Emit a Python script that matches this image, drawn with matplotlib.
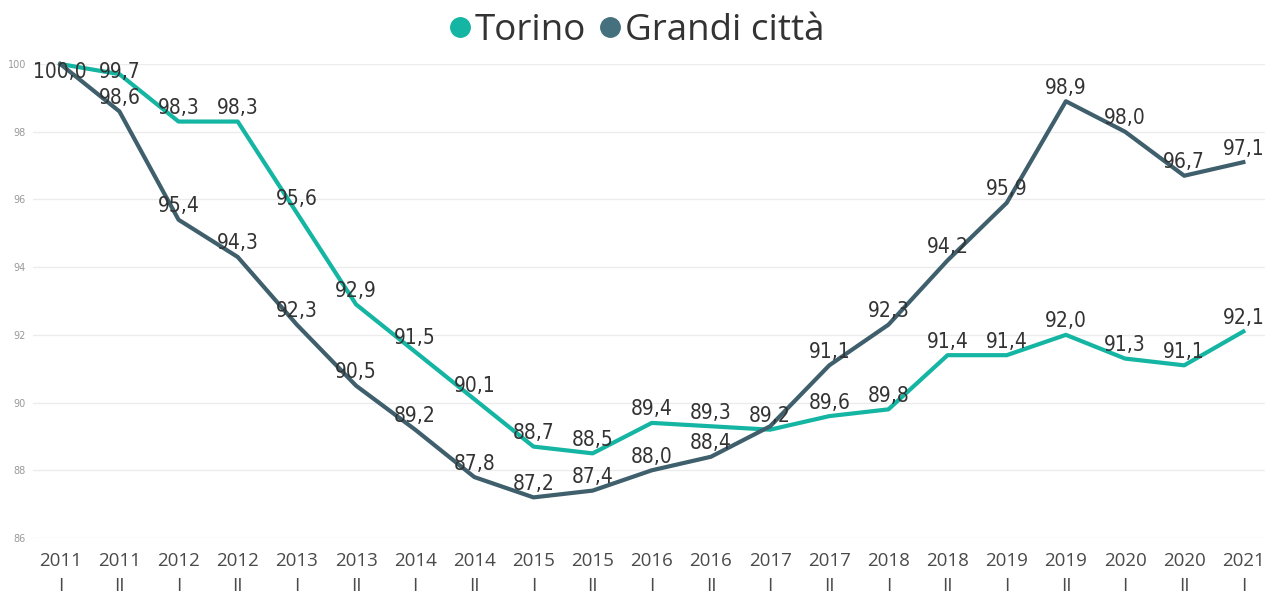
import matplotlib
matplotlib.use("Agg")
import matplotlib.pyplot as plt
from matplotlib.lines import Line2D

# data
anni = ["2011", "2011", "2012", "2012", "2013", "2013", "2014", "2014", "2015", "2015",
        "2016", "2016", "2017", "2017", "2018", "2018", "2019", "2019", "2020", "2020", "2021"]
semestri = ["I", "II"] * 10 + ["I"]
torino = [100.0, 99.7, 98.3, 98.3, 95.6, 92.9, 91.5, 90.1, 88.7, 88.5,
          89.4, 89.3, 89.2, 89.6, 89.8, 91.4, 91.4, 92.0, 91.3, 91.1, 92.1]
grandi = [100.0, 98.6, 95.4, 94.3, 92.3, 90.5, 89.2, 87.8, 87.2, 87.4,
          88.0, 88.4, 89.3, 91.1, 92.3, 94.2, 95.9, 98.9, 98.0, 96.7, 97.1]
# labels that Power BI hid because they overlapped
grandi_hidden = [0, 12]

c_torino = "#14b5a2"
c_grandi = "#3e5f6b"

fig = plt.figure(figsize=(12.71, 5.97), dpi=100)
ax = fig.add_axes([0.026, 0.0988, 0.969, 0.794])

x = list(range(len(torino)))
ax.plot(x, torino, color=c_torino, lw=3.0, clip_on=False, zorder=3)
ax.plot(x, grandi, color=c_grandi, lw=3.0, clip_on=False, zorder=3)

ax.set_ylim(86, 100)
ax.set_xlim(-0.46, 20.36)
ax.set_yticks(range(86, 101, 2))
ax.set_xticks(x)
ax.set_xticklabels([f"{a}\n{s}" for a, s in zip(anni, semestri)],
                   fontsize=13.5, color="#4a4a4a", family="Open Sans", linespacing=1.5)
ax.tick_params(axis="x", length=0, pad=10)
ax.tick_params(axis="y", length=0, pad=5, labelsize=7, labelcolor="#999999")
ax.grid(axis="y", color="#ececec", lw=1)
ax.set_axisbelow(True)
for s in ax.spines.values():
    s.set_visible(False)


def put_labels(vals, skip=()):
    for i, v in enumerate(vals):
        if i in skip:
            continue
        y = min(v + 0.4, 99.75)
        ax.text(i, y, f"{v:.1f}".replace(".", ","), ha="center", va="center",
                fontsize=15, color="#333333", family="DejaVu Sans",
                fontstretch="condensed", zorder=4)


put_labels(torino)
put_labels(grandi, grandi_hidden)

handles = [Line2D([], [], marker="o", ls="", ms=14, color=c_torino),
           Line2D([], [], marker="o", ls="", ms=14, color="#45717e")]
fig.legend(handles, ["Torino", "Grandi città"], loc="center", bbox_to_anchor=(0.5, 0.948),
           ncol=2, frameon=False, handlelength=0.7, handletextpad=0.05, columnspacing=0.3,
           prop={"family": "Open Sans", "size": 26.5}, labelcolor="#333333")

fig.savefig("out.png", dpi=100)
